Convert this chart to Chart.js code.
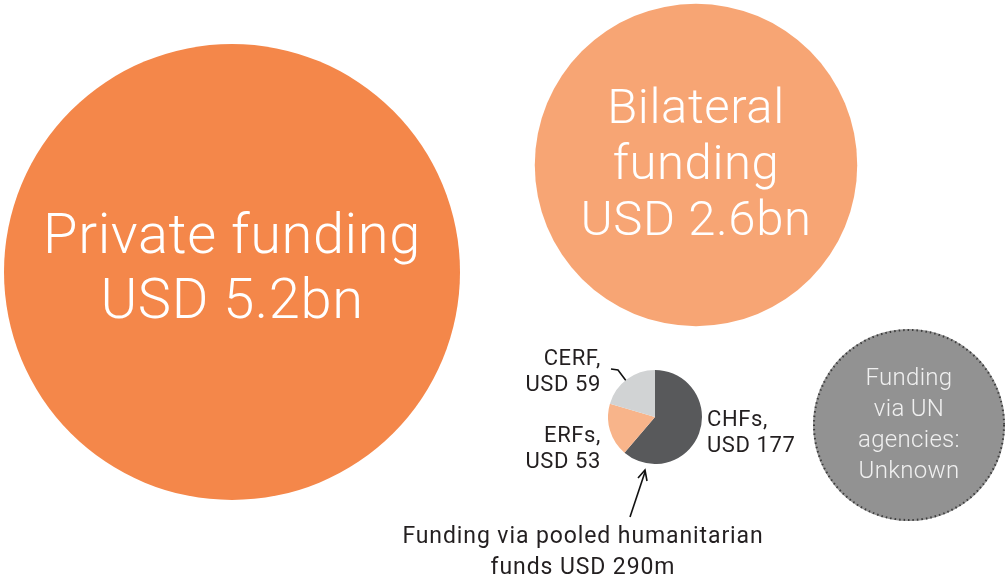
<!DOCTYPE html>
<html>
<head>
<meta charset="utf-8">
<script src="https://cdn.jsdelivr.net/npm/chart.js@4"></script>
<style>
    body { margin: 0; background: #fff; }
    #wrap { position: relative; width: 1005px; height: 580px; overflow: hidden; font-family: 'Roboto', sans-serif; }
    #main { position: absolute; left: 0; top: 0; }
    #pie { position: absolute; left: 608px; top: 370px; }
    .lbl { position: absolute; text-align: center; white-space: nowrap; }
    .big { color: #fff; font-weight: 300; letter-spacing: 0.6px; }
    .small { color: #231f20; font-size: 22px; line-height: 26px; letter-spacing: 0.6px; }
</style>
</head>
<body>
<div id="wrap">
    <canvas id="main" width="1005" height="580"></canvas>
    <canvas id="pie" width="94" height="94"></canvas>

    <div class="lbl big" style="left:0; width:464px; top:202px; font-size:56px; line-height:65px;">Private funding<br>USD 5.2bn</div>
    <div class="lbl big" style="left:536px; width:320px; top:79px; font-size:49px; line-height:56px;">Bilateral<br>funding<br>USD 2.6bn</div>
    <div class="lbl big" style="left:813px; width:192px; top:362px; font-size:24px; line-height:31px; color:#f0f0f0; letter-spacing:0.3px;">Funding<br>via UN<br>agencies:<br>Unknown</div>

    <div class="lbl small" style="left:500px; width:101px; top:345px; text-align:right;">CERF,<br>USD 59</div>
    <div class="lbl small" style="left:500px; width:101px; top:422px; text-align:right;">ERFs,<br>USD 53</div>
    <div class="lbl small" style="left:707px; width:100px; top:406px; text-align:left;">CHFs,<br>USD 177</div>
    <div class="lbl small" style="left:283px; width:600px; top:520px; font-size:23px; line-height:31px; letter-spacing:0.9px;">Funding via pooled humanitarian<br>funds USD 290m</div>
</div>

<script>
// valores em USD bilhoes
const fontes = ['Private funding', 'Bilateral funding', 'Funding via UN agencies'];
const valores = [5.2, 2.6, null]; // UN agencies: desconhecido
const coresBolhas = ['#f4874a', '#f7a574', '#929292'];

// fundos comuns (USD milhoes)
const fundosLabels = ['CHFs', 'ERFs', 'CERF'];
const fundosValores = [177, 53, 59];
const fundosCores = ['#58595b', '#f8b48a', '#d1d3d4'];

// layout das bolhas (pixels)
const posicoes = [{x: 232, y: 272}, {x: 696, y: 165}, {x: 909, y: 425}];
const raioBase = 228; // raio de 5.2bn
const raioDesconhecido = 96;

let bolhas = [];
for (let i = 0; i < fontes.length; i++) {
    let r = valores[i] ? raioBase * Math.sqrt(valores[i] / valores[0]) : raioDesconhecido;
    bolhas.push({x: posicoes[i].x, y: posicoes[i].y, r: r});
}

// borda pontilhada na bolha "desconhecido" + setas
const extras = {
    id: 'extras',
    afterDatasetsDraw(chart) {
        const ctx = chart.ctx;
        const meta = chart.getDatasetMeta(0);
        const el = meta.data[2];
        ctx.save();
        ctx.strokeStyle = '#3c3c3c';
        ctx.lineWidth = 2;
        ctx.setLineDash([1.5, 3]);
        ctx.beginPath();
        ctx.arc(el.x, el.y, bolhas[2].r - 1, 0, Math.PI * 2);
        ctx.stroke();
        ctx.setLineDash([]);

        // seta para o grafico de pizza
        ctx.strokeStyle = '#111';
        ctx.lineWidth = 1.6;
        ctx.beginPath();
        ctx.moveTo(630, 517);
        ctx.lineTo(645, 472);
        ctx.stroke();
        ctx.beginPath();
        ctx.moveTo(638, 478);
        ctx.lineTo(645, 470);
        ctx.lineTo(647, 481);
        ctx.stroke();

        // linha do CERF
        ctx.beginPath();
        ctx.moveTo(611, 369);
        ctx.lineTo(618, 370);
        ctx.lineTo(627, 382);
        ctx.stroke();
        ctx.restore();
    }
};

new Chart(document.getElementById('main').getContext('2d'), {
    type: 'bubble',
    data: {
        labels: fontes,
        datasets: [{
            data: bolhas,
            backgroundColor: coresBolhas,
            borderWidth: 0,
            hoverBorderWidth: 0,
            clip: false
        }]
    },
    options: {
        responsive: false,
        animation: false,
        layout: { padding: 0, autoPadding: false },
        plugins: { legend: { display: false }, tooltip: { enabled: false } },
        scales: {
            x: { type: 'linear', min: 0, max: 1005, display: false },
            y: { type: 'linear', min: 0, max: 580, reverse: true, display: false }
        }
    },
    plugins: [extras]
});

new Chart(document.getElementById('pie').getContext('2d'), {
    type: 'pie',
    data: {
        labels: fundosLabels,
        datasets: [{
            data: fundosValores,
            backgroundColor: fundosCores,
            borderWidth: 0
        }]
    },
    options: {
        responsive: false,
        animation: false,
        layout: { padding: 0 },
        plugins: { legend: { display: false }, tooltip: { enabled: false } }
    }
});
</script>
</body>
</html>
